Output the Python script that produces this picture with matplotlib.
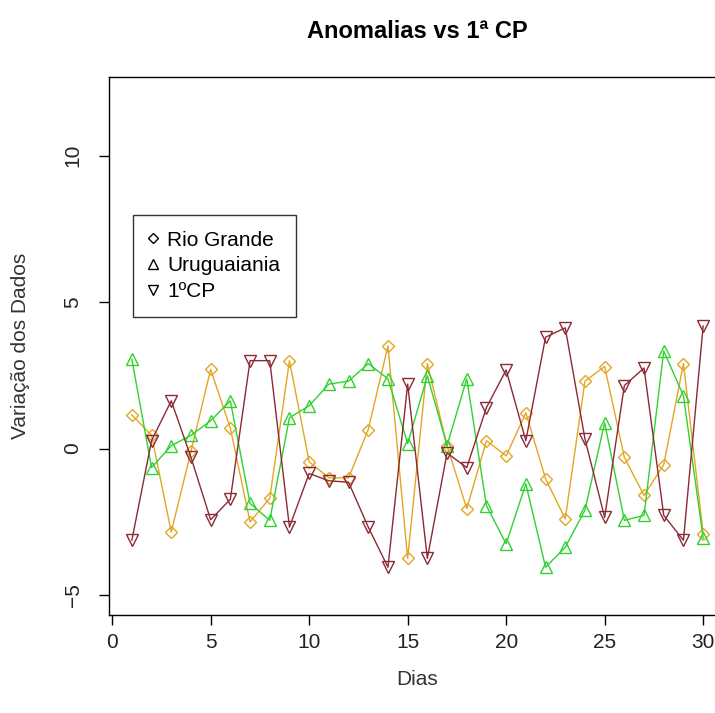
import numpy as np
import matplotlib
matplotlib.use("Agg")
import matplotlib.pyplot as plt
from matplotlib.lines import Line2D

plt.rcParams['font.family'] = ['Liberation Sans', 'DejaVu Sans']

# dias 1..30
dias = list(range(1, 31))

rio_grande = [1.15, 0.45, -2.85, -0.1, 2.7, 0.7, -2.5, -1.7, 3.0, -0.45,
              -1.0, -1.0, 0.65, 3.5, -3.75, 2.9, 0.1, -2.05, 0.27, -0.25,
              1.22, -1.03, -2.4, 2.3, 2.8, -0.3, -1.6, -0.55, 2.9, -2.9]

uruguaiania = [3.05, -0.65, 0.1, 0.45, 0.95, 1.63, -1.87, -2.45, 1.05, 1.46,
               2.2, 2.3, 2.9, 2.38, 0.17, 2.48, 0.1, 2.38, -1.95, -3.25,
               -1.2, -4.05, -3.37, -2.1, 0.88, -2.45, -2.28, 3.33, 1.8, -3.05]

cp1 = [-3.13, 0.27, 1.63, -0.3, -2.43, -1.73, 3.0, 3.0, -2.68, -0.85,
       -1.1, -1.15, -2.68, -4.05, 2.2, -3.75, -0.15, -0.65, 1.4, 2.68,
       0.27, 3.8, 4.12, 0.33, -2.35, 2.15, 2.75, -2.28, -3.13, 4.18]

nomes = ["Rio Grande", "Uruguaiania", "1ºCP"]
cores = ["#E3A623", "#2FD22F", "#8B2A35"]
simbolos = ["D", "^", "v"]
tamanhos = [6.5, 8.5, 8.5]

fig = plt.figure(figsize=(7.15, 7.13), dpi=100)
ax = fig.add_axes([109/715, 1 - 615/713, (726 - 109)/715, (615 - 77)/713])

for serie, cor, m, ms in zip([rio_grande, uruguaiania, cp1], cores, simbolos, tamanhos):
    ax.plot(dias, serie, color=cor, lw=1.0, marker=m, ms=ms,
            markerfacecolor="none", markeredgecolor=cor, markeredgewidth=1.0)

ax.set_xlim(-0.16, 31.16)
ax.set_ylim(-5.68, 12.68)
ax.set_xticks([0, 5, 10, 15, 20, 25, 30])
ax.set_yticks([-5, 0, 5, 10])
ax.tick_params(axis='x', length=7, width=1, labelsize=15, pad=6,
               labelcolor="#222222")
ax.tick_params(axis='y', length=7, width=1, labelsize=15, pad=12,
               labelcolor="#222222")
for lab in ax.get_yticklabels():
    lab.set_rotation(90)
    lab.set_va('center')
for s in ax.spines.values():
    s.set_linewidth(1)

ax.set_xlabel("Dias", fontsize=15, labelpad=13, color="#333333")
ax.set_ylabel("Variação dos Dados", fontsize=15, labelpad=24, color="#333333")
fig.text(417/715, 1 - 31/713, "Anomalias vs 1ª CP", ha='center', va='center',
         fontsize=17, fontweight='bold')

handles = [Line2D([], [], linestyle='none', marker=m, ms=ms,
                  markerfacecolor='none', markeredgecolor='black', markeredgewidth=1.0)
           for m, ms in zip(["D", "^", "v"], [5.5, 7.5, 7.5])]
leg = ax.legend(handles, nomes, loc='upper left', bbox_to_anchor=(24/617, 1 - 138/538),
                fontsize=15, frameon=True, fancybox=False, edgecolor='black',
                handlelength=0.45, handletextpad=0.45, labelspacing=0.32,
                borderpad=0.75, borderaxespad=0)
leg.get_frame().set_linewidth(1)

fig.savefig("out.png", dpi=100)
